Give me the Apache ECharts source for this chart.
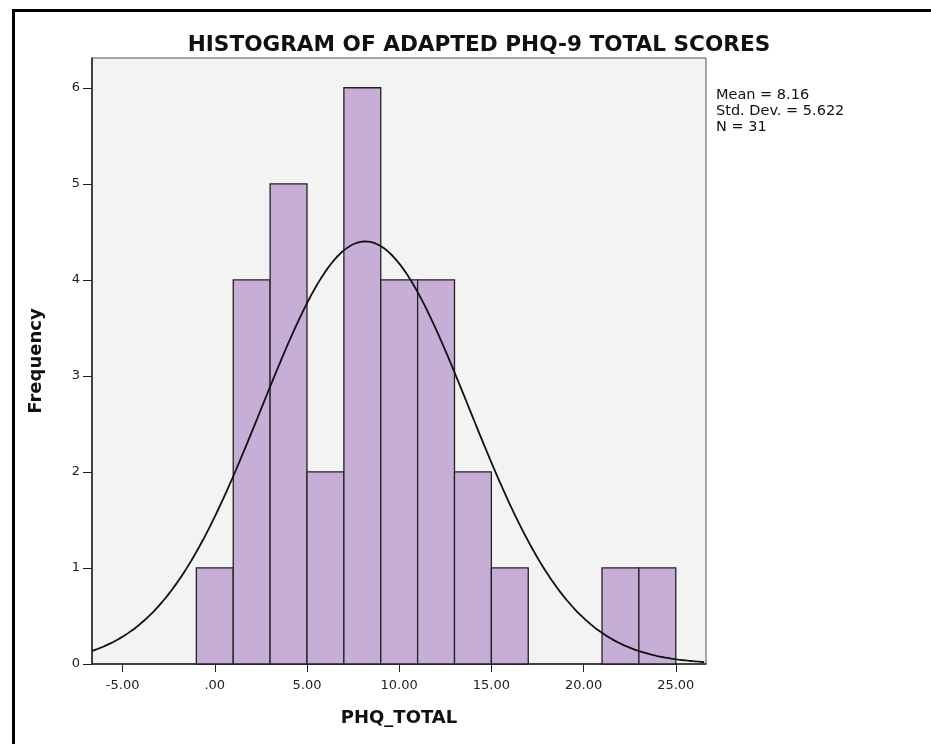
<!DOCTYPE html>
<html>
<head>
<meta charset="utf-8">
<script src="https://cdn.jsdelivr.net/npm/echarts@6/dist/echarts.min.js"></script>
<style>
  html, body { margin: 0; padding: 0; background: #fff; }
  #chart { width: 931px; height: 744px; }
</style>
</head>
<body>
<div id="chart"></div>
<script>
// histogram bins (left edge), bin width 2
const binStarts = [-1, 1, 3, 5, 7, 9, 11, 13, 15, 17, 19, 21, 23];
const binWidth = 2;
const frequencies = [1, 4, 5, 2, 6, 4, 4, 2, 1, 0, 0, 1, 1];

// summary shown on the chart (normal curve is fitted from these)
const mean = 8.16;
const stdDev = 5.622;
const n = 31;

const xTicks = [-5, 0, 5, 10, 15, 20, 25];
const yTicks = [0, 1, 2, 3, 4, 5, 6];

const xMin = -6.66, xMax = 26.64;

const binData = binStarts.map((s, i) => [s, s + binWidth, frequencies[i]]);

// normal curve scaled to counts
const curveData = [];
for (let x = xMin; x <= xMax + 1e-9; x += 0.2) {
  const z = (x - mean) / stdDev;
  curveData.push([x, n * binWidth / (stdDev * Math.sqrt(2 * Math.PI)) * Math.exp(-0.5 * z * z)]);
}

function fmtX(v) {
  if (v === 0) return '.00';
  return v.toFixed(2);
}

const chart = echarts.init(document.getElementById('chart'));

const option = {
  animation: false,
  title: {
    text: 'HISTOGRAM OF ADAPTED PHQ-9 TOTAL SCORES',
    left: 474,
    textAlign: 'center',
    top: 29,
    textStyle: { fontFamily: 'DejaVu Sans', fontWeight: 'bold', fontSize: 21.6, color: '#111' }
  },
  grid: {
    left: 92, top: 58, right: 225, bottom: 80,
    show: true, backgroundColor: '#f3f3f3', borderColor: '#555', borderWidth: 1
  },
  xAxis: {
    type: 'value',
    min: xMin,
    max: xMax,
    name: 'PHQ_TOTAL',
    nameLocation: 'middle',
    nameGap: 45,
    nameTextStyle: { fontFamily: 'DejaVu Sans', fontWeight: 'bold', fontSize: 18, color: '#111' },
    splitLine: { show: false },
    axisLine: { onZero: false, lineStyle: { color: '#222', width: 1.5 } },
    axisTick: { show: true, length: 8, customValues: xTicks, lineStyle: { color: '#222' } },
    axisLabel: {
      customValues: xTicks, formatter: fmtX, margin: 15,
      fontFamily: 'DejaVu Sans', fontSize: 13, color: '#222'
    }
  },
  yAxis: {
    type: 'value',
    min: 0,
    max: 6.31,
    name: 'Frequency',
    nameLocation: 'middle',
    nameGap: 47,
    nameRotate: 90,
    nameTextStyle: { fontFamily: 'DejaVu Sans', fontWeight: 'bold', fontSize: 18, color: '#111' },
    splitLine: { show: false },
    axisLine: { show: true, onZero: false, lineStyle: { color: '#222', width: 1.5 } },
    axisTick: { show: true, length: 9, customValues: yTicks, lineStyle: { color: '#222' } },
    axisLabel: {
      customValues: yTicks, margin: 12,
      fontFamily: 'DejaVu Sans', fontSize: 13, color: '#222'
    }
  },
  graphic: [
    {
      type: 'text', left: 716, top: 87,
      style: {
        text: 'Mean = ' + mean + '\nStd. Dev. = ' + stdDev + '\nN = ' + n,
        fontFamily: 'DejaVu Sans', fontSize: 14.5, lineHeight: 16, fill: '#111'
      }
    },
    {
      type: 'polyline', silent: true,
      shape: { points: [[13.5, 744], [13.5, 10.5], [931, 10.5]] },
      style: { stroke: '#000', lineWidth: 3, fill: null }
    }
  ],
  series: [
    {
      type: 'custom',
      data: binData,
      encode: { x: [0, 1], y: 2 },
      renderItem: function (params, api) {
        if (!api.value(2)) return null;
        const p0 = api.coord([api.value(0), 0]);
        const p1 = api.coord([api.value(1), api.value(2)]);
        return {
          type: 'rect',
          shape: { x: p0[0], y: p1[1], width: p1[0] - p0[0], height: p0[1] - p1[1] },
          style: { fill: '#c6aed6', stroke: '#222', lineWidth: 1.3 }
        };
      },
      z: 2
    },
    {
      type: 'line',
      data: curveData,
      showSymbol: false,
      smooth: true,
      lineStyle: { color: '#111', width: 1.8 },
      z: 3
    }
  ]
};

chart.setOption(option);
</script>
</body>
</html>
